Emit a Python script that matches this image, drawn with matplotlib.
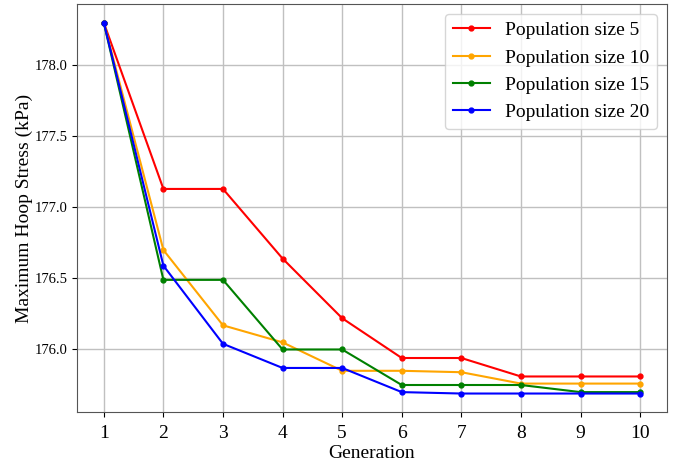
import matplotlib
matplotlib.use("Agg")
import matplotlib.pyplot as plt

plt.rcParams['font.family'] = ['Liberation Serif', 'DejaVu Serif']

generations = [1, 2, 3, 4, 5, 6, 7, 8, 9, 10]
pop5 = [178.30, 177.13, 177.13, 176.64, 176.22, 175.94, 175.94, 175.81, 175.81, 175.81]
pop10 = [178.30, 176.70, 176.17, 176.05, 175.85, 175.85, 175.84, 175.76, 175.76, 175.76]
pop15 = [178.30, 176.49, 176.49, 176.00, 176.00, 175.75, 175.75, 175.75, 175.70, 175.70]
pop20 = [178.30, 176.59, 176.04, 175.87, 175.87, 175.70, 175.69, 175.69, 175.69, 175.69]

series = [
    (pop5, 'red', 'Population size 5'),
    (pop10, 'orange', 'Population size 10'),
    (pop15, 'green', 'Population size 15'),
    (pop20, 'blue', 'Population size 20'),
]

fig = plt.figure(figsize=(6.73, 4.63), dpi=100)
ax = fig.add_axes([0.1144, 0.110, 0.8766, 0.881])

for vals, col, lab in series:
    ax.plot(generations, vals, color=col, marker='o', markersize=3.5,
            linewidth=1.5, label=lab)

ax.set_xticks(generations)
ax.tick_params(axis='x', labelsize=14, pad=6)
ax.tick_params(axis='y', labelsize=10.5)
ax.set_xlabel('Generation', fontsize=14, labelpad=2)
ax.set_ylabel('Maximum Hoop Stress (kPa)', fontsize=14, labelpad=1)
ax.grid(True, color='#c0c0c0', linewidth=1)
for sp in ax.spines.values():
    sp.set_color('#555555')

ax.legend(fontsize=14, loc='upper right', handlelength=1.9)

fig.savefig('out.png', dpi=100)
